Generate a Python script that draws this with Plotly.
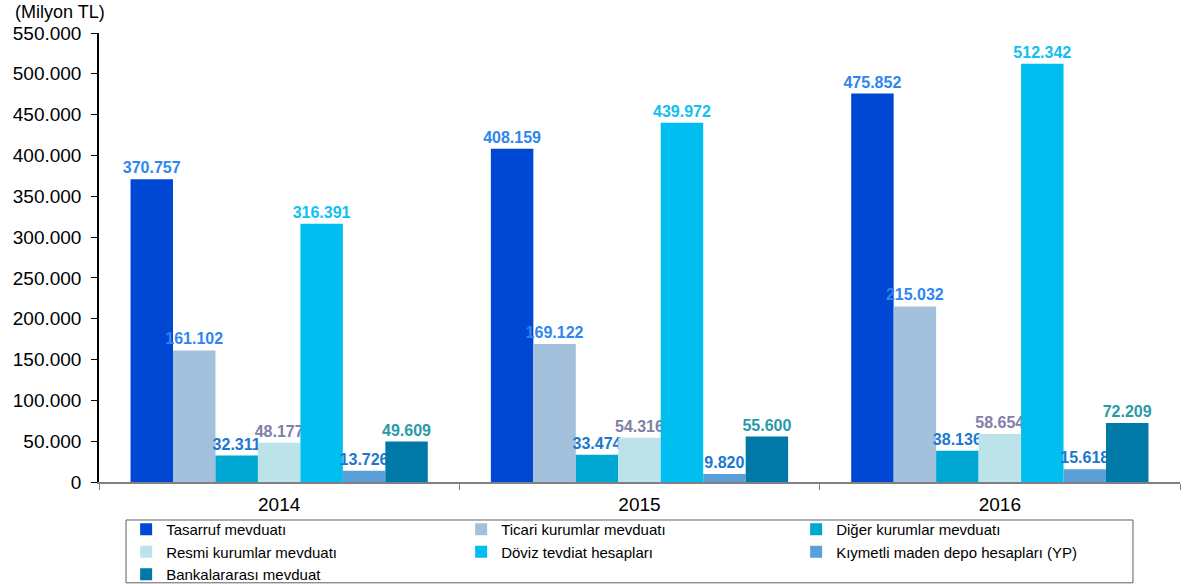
import plotly.graph_objects as go

years = ["2014", "2015", "2016"]
series_names = [
    "Tasarruf mevduatı",
    "Ticari kurumlar mevduatı",
    "Diğer kurumlar mevduatı",
    "Resmi kurumlar mevduatı",
    "Döviz tevdiat hesapları",
    "Kıymetli maden depo hesapları (YP)",
    "Bankalararası mevduat",
]
tasarruf = [370757, 408159, 475852]
ticari = [161102, 169122, 215032]
diger = [32311, 33474, 38136]
resmi = [48177, 54316, 58654]
doviz = [316391, 439972, 512342]
kiymetli = [13726, 9820, 15618]
bankalararasi = [49609, 55600, 72209]
series_values = [tasarruf, ticari, diger, resmi, doviz, kiymetli, bankalararasi]

bar_colors = ["#0047d3", "#a3c0dd", "#00a7d3", "#bde3ea", "#00bff0", "#5a9fd8", "#0078a8"]
label_colors = ["#2f86f0", "#2f86f0", "#1a78d0", "#8080a8", "#10c0f0", "#1a78d0", "#2a9aa8"]
y_ticks = list(range(0, 550001, 50000))

fig = go.Figure()
for name, vals, bc, lc in zip(series_names, series_values, bar_colors, label_colors):
    fig.add_trace(go.Bar(
        name=name, x=years, y=vals,
        marker=dict(color=bc, line=dict(width=0)),
        texttemplate="%{y:,.0f}", textposition="outside",
        textfont=dict(family="Liberation Sans", size=16, color=lc, weight="bold"),
        constraintext="none", cliponaxis=False,
    ))

fig.update_layout(
    width=1190, height=584,
    margin=dict(l=99, r=10, t=33, b=102, autoexpand=False),
    barmode="group", bargap=0.175, bargroupgap=0,
    separators=",.",
    plot_bgcolor="white", paper_bgcolor="white",
    font=dict(family="Liberation Sans", size=17, color="#000000"),
    showlegend=True,
    legend=dict(
        orientation="h", xref="container", yref="container",
        x=0.106, xanchor="left", y=0.1216, yanchor="top",
        bgcolor="rgba(0,0,0,0)", borderwidth=0,
        font=dict(family="Liberation Sans", size=15, color="#000000"),
        entrywidth=290, entrywidthmode="pixels",
        traceorder="normal", tracegroupgap=0,
        itemwidth=30,
    ),
    shapes=[dict(
        type="rect", xref="paper", yref="paper",
        x0=0.025, x1=0.9565, y0=-0.2245, y1=-0.0846,
        line=dict(color="#606060", width=1), fillcolor="rgba(0,0,0,0)",
        layer="below",
    )],
    annotations=[dict(
        text="(Milyon TL)", xref="paper", yref="paper", x=-0.0796, y=1.0468,
        xanchor="left", yanchor="middle", showarrow=False,
        font=dict(family="Liberation Sans", size=18, color="#000000"),
    )],
)
fig.update_yaxes(
    range=[0, 550000], tickvals=y_ticks, tickformat=",.0f",
    showgrid=False, zeroline=False, automargin=False,
    showline=True, linecolor="#000000", linewidth=1.5,
    ticks="outside", ticklen=6, tickcolor="#000000",
    ticklabelstandoff=6,
    tickfont=dict(size=19),
)
fig.update_xaxes(
    showgrid=False, showline=True, linecolor="#808080", linewidth=2,
    automargin=False,
    ticks="outside", tickson="boundaries", ticklen=6, tickcolor="#808080",
    ticklabelstandoff=4,
    tickfont=dict(size=19),
)
fig.write_html("out.html", config={"displayModeBar": False},
               post_script="document.body.style.margin='0';")
